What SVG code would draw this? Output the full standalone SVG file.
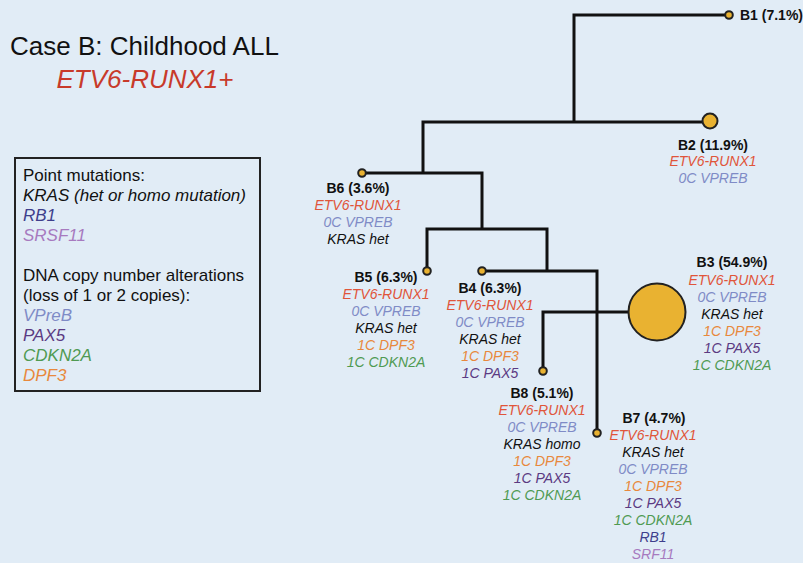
<svg xmlns="http://www.w3.org/2000/svg" width="803" height="563" viewBox="0 0 803 563">
<style>
text{font-family:"Liberation Sans",Arial,sans-serif;}
.lbl{font-size:14px;font-style:italic;text-anchor:middle;}
.hd{font-size:14px;font-weight:bold;text-anchor:middle;fill:#111;}
.lg{font-size:17px;}
.it{font-style:italic;}
.etv{fill:#e0553a;}
.vpr{fill:#7f8bc6;}
.kras{fill:#111;}
.dpf{fill:#e8883c;}
.pax{fill:#5b3a82;}
.cdk{fill:#4f9a52;}
.rb{fill:#3f3f8c;}
.srf{fill:#a77abf;}
.node{fill:#e9b231;stroke:#222;stroke-width:2;}
.edge{fill:none;stroke:#111;stroke-width:3;stroke-linejoin:miter;}
</style>
<rect width="803" height="563" fill="#e1ecf6"/>
<g id="title">
<text x="10" y="55" font-size="26" fill="#111">Case B: Childhood ALL</text>
<text x="145" y="88" font-size="26" font-style="italic" fill="#c83a2a" text-anchor="middle">ETV6-RUNX1+</text>
</g>
<g id="legend">
<rect x="15" y="158" width="245" height="233" fill="none" stroke="#222" stroke-width="2"/>
<text class="lg" x="23" y="181" fill="#111">Point mutations:</text>
<text class="lg it kras" x="23" y="201">KRAS (het or homo mutation)</text>
<text class="lg it rb" x="23" y="221">RB1</text>
<text class="lg it srf" x="23" y="241">SRSF11</text>
<text class="lg" x="23" y="281" fill="#111">DNA copy number alterations</text>
<text class="lg" x="23" y="301" fill="#111">(loss of 1 or 2 copies):</text>
<text class="lg it vpr" x="23" y="321">VPreB</text>
<text class="lg it pax" x="23" y="341">PAX5</text>
<text class="lg it cdk" x="23" y="361">CDKN2A</text>
<text class="lg it dpf" x="23" y="381">DPF3</text>
</g>
<g id="connectors">
<polyline class="edge" points="729,15 574,15 574,122"/>
<polyline class="edge" points="423,173 423,122 710,122"/>
<polyline class="edge" points="362,173 482,173 482,229"/>
<polyline class="edge" points="427,271 427,229 547,229 547,271"/>
<polyline class="edge" points="482,271 597,271 597,433"/>
<polyline class="edge" points="628,312 543,312 543,371"/>
</g>
<g id="B1">
<circle class="node" cx="729" cy="15" r="3.8"/>
<text x="740" y="20" font-size="14" font-weight="bold" fill="#111">B1 (7.1%)</text>
</g>
<g id="B2">
<circle class="node" cx="710" cy="121" r="7.5"/>
<text class="hd" x="713" y="150">B2 (11.9%)</text>
<text class="lbl etv" x="713" y="166">ETV6-RUNX1</text>
<text class="lbl vpr" x="713" y="183">0C VPREB</text>
</g>
<g id="B6">
<circle class="node" cx="362" cy="173" r="3.8"/>
<text class="hd" x="358" y="193">B6 (3.6%)</text>
<text class="lbl etv" x="358" y="210">ETV6-RUNX1</text>
<text class="lbl vpr" x="358" y="227">0C VPREB</text>
<text class="lbl kras" x="358" y="244">KRAS het</text>
</g>
<g id="B5">
<circle class="node" cx="427" cy="271" r="3.8"/>
<text class="hd" x="386" y="282">B5 (6.3%)</text>
<text class="lbl etv" x="386" y="299">ETV6-RUNX1</text>
<text class="lbl vpr" x="386" y="316">0C VPREB</text>
<text class="lbl kras" x="386" y="333">KRAS het</text>
<text class="lbl dpf" x="386" y="350">1C DPF3</text>
<text class="lbl cdk" x="386" y="367">1C CDKN2A</text>
</g>
<g id="B4">
<circle class="node" cx="482" cy="271" r="3.8"/>
<text class="hd" x="490" y="293">B4 (6.3%)</text>
<text class="lbl etv" x="490" y="310">ETV6-RUNX1</text>
<text class="lbl vpr" x="490" y="327">0C VPREB</text>
<text class="lbl kras" x="490" y="344">KRAS het</text>
<text class="lbl dpf" x="490" y="361">1C DPF3</text>
<text class="lbl pax" x="490" y="378">1C PAX5</text>
</g>
<g id="B3">
<circle class="node" cx="657" cy="312" r="28.5"/>
<text class="hd" x="732" y="267">B3 (54.9%)</text>
<text class="lbl etv" x="732" y="285">ETV6-RUNX1</text>
<text class="lbl vpr" x="732" y="302">0C VPREB</text>
<text class="lbl kras" x="732" y="319">KRAS het</text>
<text class="lbl dpf" x="732" y="336">1C DPF3</text>
<text class="lbl pax" x="732" y="353">1C PAX5</text>
<text class="lbl cdk" x="732" y="370">1C CDKN2A</text>
</g>
<g id="B8">
<circle class="node" cx="543" cy="371" r="3.8"/>
<text class="hd" x="542" y="398">B8 (5.1%)</text>
<text class="lbl etv" x="542" y="415">ETV6-RUNX1</text>
<text class="lbl vpr" x="542" y="432">0C VPREB</text>
<text class="lbl kras" x="542" y="449">KRAS homo</text>
<text class="lbl dpf" x="542" y="466">1C DPF3</text>
<text class="lbl pax" x="542" y="483">1C PAX5</text>
<text class="lbl cdk" x="542" y="500">1C CDKN2A</text>
</g>
<g id="B7">
<circle class="node" cx="597" cy="433" r="3.8"/>
<text class="hd" x="654" y="423">B7 (4.7%)</text>
<text class="lbl etv" x="653" y="440">ETV6-RUNX1</text>
<text class="lbl kras" x="653" y="457">KRAS het</text>
<text class="lbl vpr" x="653" y="474">0C VPREB</text>
<text class="lbl dpf" x="653" y="491">1C DPF3</text>
<text class="lbl pax" x="653" y="508">1C PAX5</text>
<text class="lbl cdk" x="653" y="525">1C CDKN2A</text>
<text class="lbl rb" x="653" y="542">RB1</text>
<text class="lbl srf" x="653" y="559">SRF11</text>
</g>
</svg>
